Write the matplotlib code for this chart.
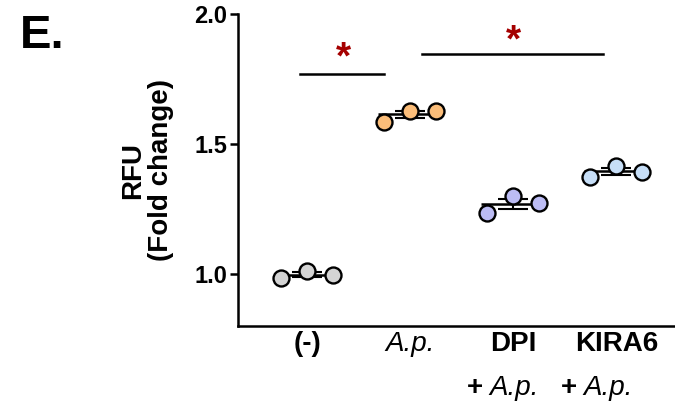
import numpy as np
import matplotlib.pyplot as plt

plt.rcParams['font.family'] = ['Liberation Sans', 'DejaVu Sans']

# data
groups = ['(-)', 'A.p.', 'DPI', 'KIRA6']
group_style = [('bold', 'normal'), ('normal', 'italic'), ('bold', 'normal'), ('bold', 'normal')]
rfu_ctrl = [0.985, 1.013, 0.996]
rfu_ap = [1.586, 1.628, 1.628]
rfu_dpi = [1.235, 1.301, 1.273]
rfu_kira6 = [1.374, 1.417, 1.392]
series = [rfu_ctrl, rfu_ap, rfu_dpi, rfu_kira6]
colors = ['#d4d4d4', '#fbbd79', '#bcbcf4', '#c6def7']
jitter = [-0.25, 0.0, 0.25]

# significance bars: (x0, x1, y) and star baselines
sig_bars = [(-0.07, 0.75, 1.769), (1.12, 2.87, 1.846)]
sig_stars = [(0.35, 1.789), (2.0, 1.854)]

fig = plt.figure(figsize=(6.75, 4.08), dpi=100)
ax = fig.add_axes([238 / 675, 82 / 408, 437 / 675, 312 / 408])

for i, (vals, c) in enumerate(zip(series, colors)):
    mean = np.mean(vals)
    sem = np.std(vals, ddof=1) / np.sqrt(len(vals))
    ax.hlines(mean, i - 0.31, i + 0.31, color='k', lw=1.8, zorder=2)
    ax.errorbar(i, mean, yerr=sem, color='k', capsize=11, elinewidth=1.5,
                capthick=1.5, zorder=2)
    ax.plot(i + np.array(jitter), vals, 'o', ms=11.5, mfc=c, mec='k', mew=1.7,
            zorder=3, clip_on=False)

ax.set_xlim(-0.67, 3.57)
ax.set_ylim(0.8, 2.0)
ax.set_yticks([1.0, 1.5, 2.0])
ax.set_yticklabels(['1.0', '1.5', '2.0'], fontsize=17, fontweight='bold')
ax.set_xticks([])
ax.tick_params(axis='y', length=6, width=1.8, pad=2)
for s in ['top', 'right']:
    ax.spines[s].set_visible(False)
for s in ['left', 'bottom']:
    ax.spines[s].set_linewidth(1.8)

# x labels
tr = ax.get_xaxis_transform()
for i, (g, (w, st)) in enumerate(zip(groups, group_style)):
    ax.text(i, -0.058, g, transform=tr, ha='center', va='center',
            fontsize=20, fontweight=w, fontstyle=st)
for i, (dp, da) in zip([2, 3], [(-0.37, -0.23), (-0.46, -0.32)]):
    ax.text(i + dp, -0.199, '+', transform=tr, ha='center', va='center',
            fontsize=20, fontweight='bold')
    ax.text(i + da, -0.199, 'A.p.', transform=tr, ha='left', va='center',
            fontsize=20, fontstyle='italic')

# significance
for x0, x1, y in sig_bars:
    ax.plot([x0, x1], [y, y], color='k', lw=1.8, clip_on=False)
for x, y in sig_stars:
    ax.text(x, y, '*', ha='center', va='baseline', fontsize=28,
            fontweight='bold', color='#a50000')

fig.text(147 / 675, 1 - 170 / 408, 'RFU\n(Fold change)', rotation=90,
         ha='center', va='center', multialignment='center',
         fontsize=20, fontweight='bold', linespacing=1.05)
fig.text(20 / 675, 1 - 36 / 408, 'E.', ha='left', va='center',
         fontsize=34, fontweight='bold')

fig.savefig('out.png', dpi=100)
